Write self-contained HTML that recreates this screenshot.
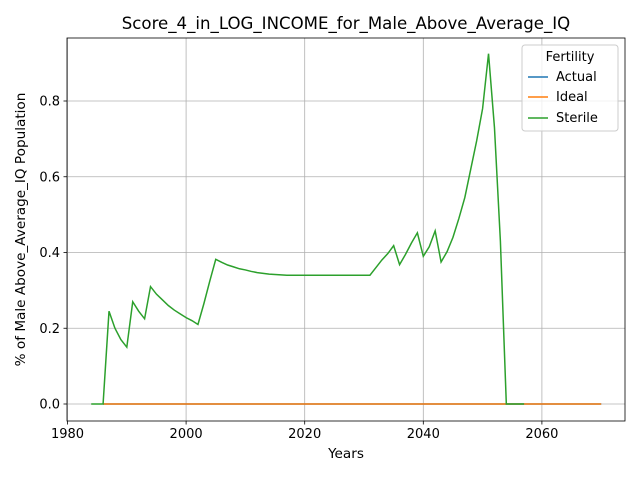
<!DOCTYPE html>
<html><head><meta charset="utf-8"><style>
body{margin:0;background:#fff}
svg{font-family:"DejaVu Sans","Liberation Sans",sans-serif}
</style></head><body>
<svg id="chart" width="640" height="480" xmlns="http://www.w3.org/2000/svg">
<rect width="640" height="480" fill="#fff"/>
<g id="grid"></g>
<g id="lines"></g>
<rect x="67" y="38" width="558" height="383" fill="none" stroke="#000" stroke-width="0.8"/>
<g id="ticks"></g>
<text x="346" y="29" font-size="16.6" text-anchor="middle">Score_4_in_LOG_INCOME_for_Male_Above_Average_IQ</text>
<text x="346" y="458" font-size="13.6" text-anchor="middle">Years</text>
<text transform="translate(25,229.5) rotate(-90)" font-size="13.6" text-anchor="middle">% of Male Above_Average_IQ Population</text>
<g>
<rect x="522" y="45" width="96" height="86" rx="3" fill="#fff" fill-opacity="0.8" stroke="#ccc"/>
<text x="570" y="61" font-size="13" text-anchor="middle">Fertility</text>
<g><line x1="528" y1="77" x2="548" y2="77" stroke="#1f77b4" stroke-width="1.5"/><text x="556" y="81" font-size="13">Actual</text></g>
<g><line x1="528" y1="97" x2="548" y2="97" stroke="#ff7f0e" stroke-width="1.5"/><text x="556" y="101" font-size="13">Ideal</text></g>
<g><line x1="528" y1="118" x2="548" y2="118" stroke="#2ca02c" stroke-width="1.5"/><text x="556" y="122" font-size="13">Sterile</text></g>
</g>
</svg>
<script>
const xTicks=[1980,2000,2020,2040,2060];
const yTicks=[0.0,0.2,0.4,0.6,0.8];
const yTickLabels=["0.0","0.2","0.4","0.6","0.8"];
const sterileStart=1984;
const sterileValues=[0,0,0,0.245,0.2,0.17,0.15,0.27,0.245,0.225,0.31,0.29,0.275,0.26,0.248,0.238,0.228,0.22,0.21,0.265,0.325,0.382,0.374,0.367,0.362,0.357,0.354,0.35,0.347,0.345,0.343,0.342,0.341,0.34,0.34,0.34,0.34,0.34,0.34,0.34,0.34,0.34,0.34,0.34,0.34,0.34,0.34,0.34,0.36,0.38,0.397,0.418,0.368,0.395,0.425,0.452,0.39,0.415,0.457,0.375,0.402,0.44,0.49,0.545,0.62,0.695,0.78,0.925,0.73,0.43,0,0,0,0];
const actualStart=1986;
const actualValues=new Array(85).fill(0);
const idealStart=1986;
const idealValues=new Array(85).fill(0);

const X=y=>67.5+(y-1980)*5.93;
const Y=v=>404-v*378.75;
const NS="http://www.w3.org/2000/svg";
const grid=document.getElementById('grid'),ticks=document.getElementById('ticks'),lines=document.getElementById('lines');
function mk(tag,attrs,parent){const e=document.createElementNS(NS,tag);for(const k in attrs)e.setAttribute(k,attrs[k]);parent.appendChild(e);return e;}
xTicks.forEach(t=>{
  const g=mk('line',{x1:X(t),x2:X(t),y1:38,y2:421,stroke:'#b0b0b0','stroke-width':0.8},grid);
  
  
  mk('line',{x1:X(t),x2:X(t),y1:421,y2:424.5,stroke:'#000','stroke-width':0.8},ticks);
  const tx=mk('text',{x:X(t),y:438,'font-size':13,'text-anchor':'middle'},ticks);
  tx.textContent=t;
  
  
});
yTicks.forEach((t,i)=>{
  const g=mk('line',{x1:67,x2:625,y1:Y(t),y2:Y(t),stroke:'#b0b0b0','stroke-width':0.8},grid);
  
  
  mk('line',{x1:63.5,x2:67,y1:Y(t),y2:Y(t),stroke:'#000','stroke-width':0.8},ticks);
  const tx=mk('text',{x:60,y:Y(t)+4.5,'font-size':13,'text-anchor':'end'},ticks);
  tx.textContent=yTickLabels[i];
  
  
});
function series(start,vals,color,name){
  const p=mk('polyline',{points:vals.map((v,i)=>X(start+i)+','+Y(v)).join(' '),fill:'none',stroke:color,'stroke-width':1.5},lines);
  
  
}
series(actualStart,actualValues,'#1f77b4','actual-line');
series(idealStart,idealValues,'#ff7f0e','ideal-line');
series(sterileStart,sterileValues,'#2ca02c','sterile-line');
</script>
</body></html>
